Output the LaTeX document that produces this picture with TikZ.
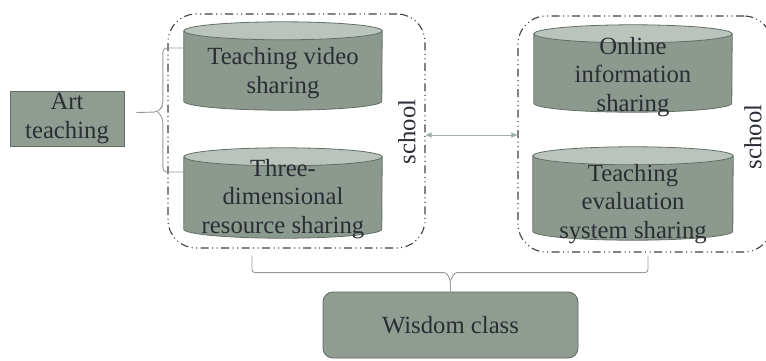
\documentclass[tikz,border=0pt]{standalone}
\usepackage{fontspec}
\setmainfont{Liberation Serif}
\usetikzlibrary{arrows.meta}

\definecolor{boxfill}{RGB}{143,156,146}
\definecolor{boxline}{RGB}{98,110,101}
\definecolor{cyltop}{RGB}{186,196,189}
\definecolor{cylbody}{RGB}{140,153,143}
\definecolor{txtcol}{RGB}{42,46,52}
\definecolor{bracecol}{RGB}{150,152,150}
\definecolor{arrowcol}{RGB}{160,174,168}

\tikzset{
  txt/.style={font=\fontsize{24.7}{28.5}\selectfont, text=txtcol, align=center, inner sep=0pt},
  school/.style={draw=black!75, line width=1.1pt, rounded corners=28pt,
    dash pattern=on 8pt off 3.5pt on 1pt off 3.5pt on 1pt off 3.5pt},
  cylbox/.style={rectangle, inner sep=0pt},
  plainbox/.style={draw=boxline, fill=boxfill, line width=0.9pt, txt},
  brace/.style={draw=bracecol, line width=0.9pt, rounded corners=4pt}
}

% cylinder drawn round a named box: #1 node, #2 half width
\newcommand\cyl[2]{%
  \path[draw=boxline, fill=cylbody, line width=0.8pt] ([yshift=-9pt]#1.north west) -- ([yshift=9pt]#1.south west)
    arc[start angle=180, end angle=360, x radius=#2pt, y radius=9pt] -- ([yshift=-9pt]#1.north east) -- cycle;
  \path[draw=boxline, fill=cyltop, line width=0.8pt] ([yshift=-9pt]#1.north) ellipse[x radius=#2pt, y radius=9pt];
}

\begin{document}
\begin{tikzpicture}[x=1pt, y=-1pt]
\useasboundingbox (0,0) rectangle (766,360);
\clip (0,0) rectangle (766,360);
% two schools
\node[school, minimum width=257pt, minimum height=234pt] (L) at (296.5,131) {};
\node[school, minimum width=254pt, minimum height=236pt] (R) at (645,134) {};
\node[txt, rotate=90] (Ls) at (407,132) {school};
\node[txt, rotate=90] (Rs) at (753,137) {school};
% shared resources
\node[cylbox, minimum width=198pt, minimum height=88pt] (V1) at (283,66) {};
\node[cylbox, minimum width=198pt, minimum height=90pt] (V2) at (283,193) {};
\node[cylbox, minimum width=198pt, minimum height=87pt] (V3) at (633,68.5) {};
\node[cylbox, minimum width=200pt, minimum height=93pt] (V4) at (633,193.5) {};
\cyl{V1}{99}
\cyl{V2}{99}
\cyl{V3}{99}
\cyl{V4}{100}
\node[txt] (V1t) at (283,73) {Teaching video\\sharing};
\node[txt] (V2t) at (283,199) {Three-\\dimensional\\resource sharing};
\node[txt] (V3t) at (633,77) {Online\\information\\sharing};
\node[txt] (V4t) at (633,204) {Teaching\\evaluation\\system sharing};
% art teaching and wisdom class
\node[plainbox, minimum width=114pt, minimum height=55pt] (A) at (67,118.5) {Art\\teaching};
\node[plainbox, rounded corners=10pt, minimum width=255pt, minimum height=66pt] (W) at (450.5,325) {Wisdom class};
% braces
\draw[brace] ([yshift=18pt]V1.west) -- ++(-21,0) -- ++(0,58) -- ++(-5,6) -- ([xshift=12pt,yshift=6pt]A.east);
\draw[brace] ([yshift=21pt]V2.west) -- ++(-21,0) -- ++(0,-54) -- ++(-5,-6);
\draw[brace, rounded corners=3pt] ([xshift=-44.5pt,yshift=-7pt]L.south) |- ([xshift=-4pt,yshift=19pt]W.north) -- ++(4,8) -- (W.north);
\draw[brace, rounded corners=3pt] ([xshift=3pt,yshift=-3pt]R.south) |- ([xshift=4pt,yshift=19pt]W.north) -- ++(-4,8);
% exchange between schools
\draw[arrowcol, line width=1pt, {Triangle[length=6pt,width=5pt]}-{Triangle[length=6pt,width=5pt]}] ([yshift=-4pt]L.east) -- ([yshift=-4pt]L.east -| R.west);
\end{tikzpicture}
\end{document}
